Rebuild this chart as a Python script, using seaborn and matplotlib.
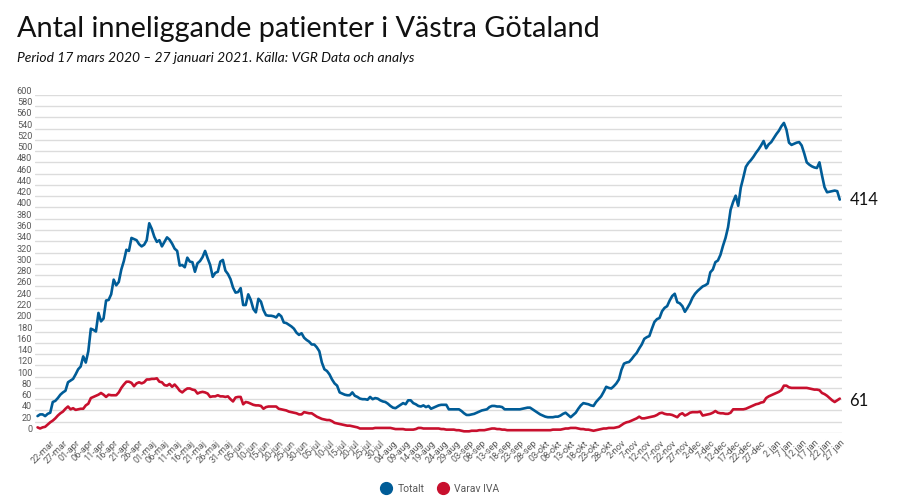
"""Antal inneliggande patienter i Västra Götaland, mars 2020 - januari 2021."""
import matplotlib
matplotlib.use("Agg")
import matplotlib.pyplot as plt
import matplotlib.transforms as mtransforms
from matplotlib.lines import Line2D
import pandas as pd
import seaborn as sns

START_DATE = "2020-03-17"

# Daily values, 17 mars 2020 - 27 januari 2021
totalt = [
    30, 33, 33, 30, 34, 36, 55, 57, 62, 68,
    72, 75, 90, 93, 96, 104, 113, 118, 136, 125,
    145, 185, 183, 180, 213, 198, 203, 235, 236, 246,
    272, 262, 268, 290, 305, 325, 323, 346, 344, 342,
    335, 331, 334, 342, 372, 362, 348, 339, 342, 331,
    339, 347, 343, 336, 327, 323, 297, 298, 294, 311,
    304, 303, 286, 301, 305, 312, 323, 310, 298, 277,
    284, 286, 304, 307, 288, 282, 273, 258, 249, 250,
    257, 227, 227, 246, 236, 220, 214, 238, 233, 218,
    209, 208, 208, 207, 205, 211, 207, 196, 195, 192,
    189, 185, 178, 174, 177, 169, 165, 162, 157, 157,
    152, 145, 125, 113, 110, 104, 95, 88, 84, 72,
    70, 68, 67, 67, 72, 66, 64, 61, 60, 60,
    59, 64, 60, 62, 61, 58, 56, 55, 52, 48,
    45, 44, 47, 50, 53, 51, 58, 58, 53, 51,
    48, 47, 49, 46, 48, 43, 45, 47, 49, 50,
    50, 50, 42, 42, 42, 42, 42, 39, 35, 32,
    32, 33, 34, 36, 38, 40, 41, 42, 46, 48,
    48, 47, 47, 46, 42, 42, 42, 42, 42, 42,
    42, 43, 44, 45, 45, 42, 39, 36, 33, 31,
    29, 28, 28, 28, 29, 29, 31, 34, 36, 32,
    28, 32, 36, 43, 49, 53, 52, 51, 49, 48,
    55, 60, 65, 73, 82, 80, 79, 83, 88, 95,
    112, 123, 125, 126, 131, 137, 142, 150, 157, 167,
    170, 172, 185, 197, 202, 204, 216, 222, 225, 235,
    243, 247, 232, 230, 225, 215, 222, 230, 240, 247,
    252, 256, 260, 262, 265, 285, 290, 303, 306, 316,
    332, 346, 365, 396, 410, 421, 403, 435, 453, 472,
    479, 484, 490, 497, 503, 510, 518, 505, 512, 516,
    523, 530, 536, 544, 550, 538, 515, 511, 513, 515,
    516, 510, 496, 480, 476, 473, 471, 470, 480, 457,
    436, 427, 428, 429, 430, 429, 414,
]

varav_iva = [
    10, 8, 10, 11, 15, 19, 22, 26, 31, 35,
    38, 43, 47, 42, 44, 41, 42, 43, 43, 49,
    52, 62, 64, 66, 68, 71, 68, 64, 68, 67,
    67, 67, 72, 80, 86, 91, 91, 89, 83, 88,
    90, 88, 90, 95, 95, 96, 96, 97, 91, 90,
    85, 84, 87, 82, 86, 81, 75, 72, 76, 79,
    79, 77, 76, 70, 72, 73, 72, 70, 64, 65,
    65, 67, 65, 65, 64, 65, 60, 56, 63, 64,
    64, 51, 55, 54, 52, 50, 49, 49, 48, 43,
    46, 47, 47, 47, 47, 43, 42, 41, 40, 38,
    37, 36, 35, 33, 33, 37, 36, 35, 35, 32,
    29, 27, 25, 24, 23, 23, 21, 18, 17, 16,
    15, 14, 13, 13, 12, 11, 10, 8, 8, 8,
    8, 8, 8, 9, 9, 9, 9, 9, 9, 9,
    8, 7, 7, 7, 7, 6, 6, 6, 6, 7,
    9, 9, 8, 8, 8, 8, 8, 8, 8, 7,
    7, 6, 6, 6, 6, 5, 5, 4, 3, 3,
    3, 4, 4, 4, 5, 5, 5, 6, 7, 8,
    8, 7, 7, 6, 6, 5, 5, 5, 5, 5,
    5, 5, 5, 5, 5, 5, 5, 5, 5, 5,
    5, 5, 5, 6, 6, 6, 6, 7, 8, 8,
    9, 9, 9, 8, 7, 7, 6, 6, 5, 4,
    5, 6, 7, 8, 8, 9, 9, 9, 10, 11,
    14, 17, 19, 20, 22, 24, 26, 29, 26, 26,
    27, 28, 29, 30, 32, 35, 36, 34, 33, 33,
    32, 30, 28, 33, 35, 31, 33, 36, 37, 37,
    37, 38, 31, 32, 33, 34, 36, 39, 36, 35,
    35, 34, 34, 36, 42, 42, 42, 42, 42, 43,
    45, 47, 49, 51, 52, 54, 55, 62, 65, 67,
    69, 71, 73, 76, 84, 84, 81, 80, 80, 80,
    80, 80, 80, 80, 79, 78, 77, 77, 76, 71,
    69, 66, 62, 58, 55, 58, 61,
]

tick_dates = [
    "2020-03-22", "2020-03-27", "2020-04-01", "2020-04-06", "2020-04-11",
    "2020-04-16", "2020-04-21", "2020-04-26", "2020-05-01", "2020-05-06",
    "2020-05-11", "2020-05-16", "2020-05-21", "2020-05-26", "2020-05-31",
    "2020-06-05", "2020-06-10", "2020-06-15", "2020-06-20", "2020-06-25",
    "2020-06-30", "2020-07-05", "2020-07-10", "2020-07-15", "2020-07-20",
    "2020-07-25", "2020-07-30", "2020-08-04", "2020-08-09", "2020-08-14",
    "2020-08-19", "2020-08-24", "2020-08-29", "2020-09-03", "2020-09-08",
    "2020-09-13", "2020-09-18", "2020-09-23", "2020-09-28", "2020-10-03",
    "2020-10-08", "2020-10-13", "2020-10-18", "2020-10-23", "2020-10-28",
    "2020-11-02", "2020-11-07", "2020-11-12", "2020-11-17", "2020-11-22",
    "2020-11-27", "2020-12-02", "2020-12-07", "2020-12-12", "2020-12-17",
    "2020-12-22", "2020-12-27", "2021-01-02", "2021-01-07", "2021-01-12",
    "2021-01-17", "2021-01-22", "2021-01-27",
]
tick_labels = [
    "22-mar", "27-mar", "01-apr", "06-apr", "11-apr", "16-apr", "21-apr",
    "26-apr", "01-maj", "06-maj", "11-maj", "16-maj", "21-maj", "26-maj",
    "31-maj", "05-jun", "10-jun", "15-jun", "20-jun", "25-jun", "30-jun",
    "05-jul", "10-jul", "15-jul", "20-jul", "25-jul", "30-jul", "04-aug",
    "09-aug", "14-aug", "19-aug", "24-aug", "29-aug", "03-sep", "08-sep",
    "13-sep", "18-sep", "23-sep", "28-sep", "03-okt", "08-okt", "13-okt",
    "18-okt", "23-okt", "28-okt", "2-nov", "7-nov", "12-nov", "17-nov",
    "22-nov", "27-nov", "2-dec", "7-dec", "12-dec", "17-dec", "22-dec",
    "27-dec", "2 jan", "7 jan", "12 jan", "17 jan", "22 jan", "27 jan",
]

series_names = ["Totalt", "Varav IVA"]
colors = {"Totalt": "#005C97", "Varav IVA": "#C8102E"}


def main():
    dates = pd.date_range(START_DATE, periods=len(totalt), freq="D")
    df = pd.concat([
        pd.DataFrame({"datum": dates, "antal": totalt, "serie": "Totalt"}),
        pd.DataFrame({"datum": dates, "antal": varav_iva, "serie": "Varav IVA"}),
    ], ignore_index=True)

    sns.set_style("white")
    plt.rcParams["font.family"] = ["Roboto", "DejaVu Sans"]

    fig = plt.figure(figsize=(9.21, 4.96), dpi=100)
    ax = fig.add_axes([0.038, 0.127, 0.876, 0.682])

    sns.lineplot(data=df, x="datum", y="antal", hue="serie",
                 palette=colors, hue_order=series_names,
                 linewidth=1.9, ax=ax, legend=False)

    ax.set_ylim(0, 600)
    ax.set_yticks(range(0, 601, 20))
    ax.set_xlim(dates[0] - pd.Timedelta(days=1), dates[-1] + pd.Timedelta(days=0.8))
    ax.set_xticks(pd.to_datetime(tick_dates))
    ax.set_xticklabels(tick_labels, rotation=45, ha="right",
                       rotation_mode="anchor", fontsize=6.6, color="#595959")
    ax.tick_params(axis="y", labelsize=6.6, labelcolor="#595959", length=0, pad=2)
    ax.tick_params(axis="x", length=0, pad=4)
    # y labels sit a bit above their gridlines in the original
    shift = mtransforms.ScaledTranslation(0, 0.045, fig.dpi_scale_trans)
    for lab in ax.get_yticklabels():
        lab.set_transform(lab.get_transform() + shift)

    ax.grid(axis="y", color="#DCDCDC", linewidth=1)
    ax.grid(axis="x", visible=False)
    sns.despine(ax=ax, left=True, bottom=True)
    ax.set_xlabel("")
    ax.set_ylabel("")

    # end labels
    ax.annotate(str(totalt[-1]), xy=(dates[-1], totalt[-1]), xytext=(7, 0),
                textcoords="offset points", va="center", fontsize=12,
                family=["Lato", "DejaVu Sans"], color="#111111")
    ax.annotate(str(varav_iva[-1]), xy=(dates[-1], varav_iva[-1]), xytext=(7, -2),
                textcoords="offset points", va="center", fontsize=12,
                family=["Lato", "DejaVu Sans"], color="#111111")

    fig.text(0.019, 0.942, "Antal inneliggande patienter i Västra Götaland",
             fontsize=20.8, family=["Lato", "DejaVu Sans"], color="#111111",
             va="center")
    fig.text(0.019, 0.883,
             "Period 17 mars 2020 \u2013 27 januari 2021. Källa: VGR Data och analys",
             fontsize=10, style="italic", family=["Lato", "DejaVu Sans"],
             color="#111111", va="center")

    handles = [Line2D([], [], marker="o", linestyle="", markersize=8.5,
                      color=colors[name]) for name in series_names]
    fig.legend(handles, series_names, loc="center", bbox_to_anchor=(0.475, 0.014),
               ncol=2, frameon=False, fontsize=7.5, handletextpad=0.1,
               columnspacing=0.8, labelcolor="#595959")

    fig.savefig("out.png", dpi=100)


if __name__ == "__main__":
    main()
